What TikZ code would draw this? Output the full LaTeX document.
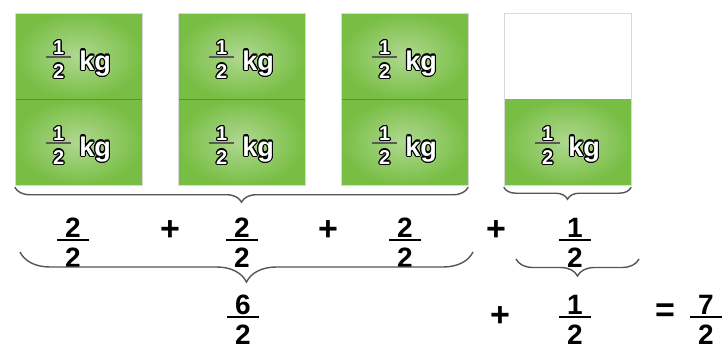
\documentclass[tikz,border=0pt]{standalone}
\usepackage{fontspec}
\setmainfont{Liberation Sans}
\usepackage{contour}
\usepackage{tikz}
\usetikzlibrary{positioning}
\usetikzlibrary{decorations.pathreplacing}
\definecolor{boxgreen}{RGB}{120,190,68}
\definecolor{boxlight}{RGB}{176,216,146}
\definecolor{divline}{RGB}{96,140,84}
\definecolor{bracegray}{RGB}{85,85,85}
\contourlength{1.1pt}
\newcommand\halfkg{{\color{black!65}\setlength\arrayrulewidth{1.6pt}%
  \renewcommand\arraystretch{0}%
  \begin{tabular}{@{\hspace{7pt}}c@{\hspace{7pt}}}
    \rule[-2pt]{0pt}{16pt}{\color{white}\contour{black}{1}}\\\hline
    \rule{0pt}{20pt}{\color{white}\contour{black}{2}}
  \end{tabular}}\hspace{8pt}\raisebox{-5pt}{\fontsize{27}{27}\selectfont\contour{black}{kg}}}
\newcommand\bigfrac[2]{{\setlength\arrayrulewidth{2pt}%
  \renewcommand\arraystretch{0}%
  \begin{tabular}{@{\hspace{8pt}}c@{\hspace{8pt}}}
    \rule[-2pt]{0pt}{22pt}#1\\\hline
    \rule{0pt}{26pt}#2
  \end{tabular}}}

\begin{document}
\begin{tikzpicture}[x=1pt, y=-1pt,
      node distance=86pt and 163pt,
      on grid,
      half/.style={rectangle, minimum width=127pt, minimum height=86pt,
        inner sep=0pt, inner color=boxlight, outer color=boxgreen,
        text=white, text height=23pt, text depth=5pt,
        font=\bfseries\fontsize{20}{20}\selectfont},
      blank/.style={rectangle, minimum width=127pt, minimum height=86pt,
        inner sep=0pt, fill=white},
      sum/.style={font=\bfseries\fontsize{28}{28}\selectfont, inner sep=0pt},
      op/.style={font=\bfseries\fontsize{34}{34}\selectfont, inner sep=0pt},
      curly/.style={decorate, decoration={brace, amplitude=#1, mirror},
        draw=bracegray, line width=1.4pt}]

    \useasboundingbox (0,0) rectangle (726,348);

    % the four boxes
    \node[half] (HalfA1) at (78.5,56) {\halfkg};
    \node[half] (HalfA2) [below=of HalfA1] {\halfkg};
    \node[half] (HalfB1) [right=of HalfA1] {\halfkg};
    \node[half] (HalfB2) [below=of HalfB1] {\halfkg};
    \node[half] (HalfC1) [right=of HalfB1] {\halfkg};
    \node[half] (HalfC2) [below=of HalfC1] {\halfkg};
    \node[blank] (HalfD1) [right=of HalfC1] {};
    \node[half] (HalfD2) [below=of HalfD1] {\halfkg};

    \foreach \b in {A,B,C}
      \draw[divline, line width=1.2pt] (Half\b1.south west) -- (Half\b1.south east);
    \foreach \b in {A,B,C,D}
      \draw[black!15] (Half\b1.north west) rectangle (Half\b2.south east);

    % first sum
    \node[sum] (SumA) at (73,242) {\bigfrac{2}{2}};
    \node[op] (PlusA) at (170,231) {+};
    \node[sum] (SumB) at (242,242) {\bigfrac{2}{2}};
    \node[op] (PlusB) at (328,231) {+};
    \node[sum] (SumC) at (405,242) {\bigfrac{2}{2}};
    \node[op] (PlusC) at (496,231) {+};
    \node[sum] (SumD) at (575,242) {\bigfrac{1}{2}};

    % second sum
    \node[sum] (Total) at (243,319) {\bigfrac{6}{2}};
    \node[op] (PlusD) at (500,317) {+};
    \node[sum] (Rest) at (575,319) {\bigfrac{1}{2}};
    \node[op] (Equals) at (665,313) {=};
    \node[sum] (Result) at (706,319) {\bigfrac{7}{2}};

    \coordinate (BigLeft) at (20,252);
    \coordinate (BigRight) at (473,252);
    \coordinate (SmallLeft) at (516,259);
    \coordinate (SmallRight) at (639,259);

    \draw[curly=15] ([yshift=-2pt]HalfA2.south west) -- ([yshift=-2pt]HalfC2.south east);
    \draw[curly=12] ([yshift=-2pt]HalfD2.south west) -- ([yshift=-2pt]HalfD2.south east);
    \draw[curly=30] (BigLeft) -- (BigRight);
    \draw[curly=17] (SmallLeft) -- (SmallRight);

  \end{tikzpicture}
\end{document}
